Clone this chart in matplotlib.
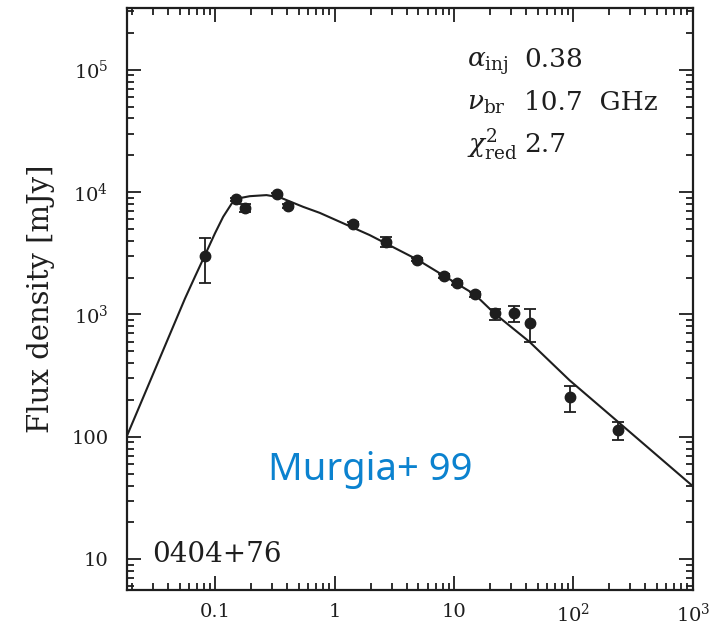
import matplotlib
matplotlib.use("Agg")
import matplotlib.pyplot as plt
from matplotlib import font_manager
from matplotlib.ticker import LogLocator, FixedLocator, FixedFormatter, NullFormatter

# measured spectrum of 0404+76
freq = [0.0817, 0.150, 0.176, 0.325, 0.407, 1.41, 2.71, 4.9, 8.3, 10.6,
        14.9, 21.8, 31.7, 43.4, 92.6, 235]
flux = [2990, 8710, 7430, 9550, 7710, 5530, 3920, 2810, 2055, 1810,
        1455, 1018, 1018, 853, 210, 113.6]
err_lo = [1180, 300, 600, 300, 300, 200, 360, 100, 80, 70,
          60, 110, 148, 256, 52, 19]
err_hi = [1240, 300, 600, 300, 300, 200, 340, 100, 80, 70,
          60, 90, 157, 245, 49, 19]

# fitted model curve
curve_freq = [0.018, 0.0556, 0.0673, 0.0817, 0.099, 0.116, 0.137, 0.155, 0.194,
              0.268, 0.347, 0.543, 0.748, 1.96, 4.9, 8.3, 14.9, 21.8, 42.8,
              92.6, 227, 1000]
curve_flux = [100, 1350, 2030, 3050, 4590, 6270, 8070, 8870, 9250,
              9440, 9040, 7570, 6760, 4450, 2810, 2055, 1455, 1018, 597,
              290, 137, 39.5]

xtick_vals = [0.1, 1, 10, 100, 1000]
xtick_labels = ["0.1", "1", "10", r"$10^2$", r"$10^3$"]
ytick_vals = [10, 100, 1000, 1e4, 1e5]
ytick_labels = ["10", "100", r"$10^3$", r"$10^4$", r"$10^5$"]

fit_names = [r"$\alpha_{\rm inj}$", r"$\nu_{\rm br}$", r"$\chi^2_{\rm red}$"]
fit_values = ["0.38", "10.7  GHz", "2.7"]

plt.rcParams["font.family"] = "DejaVu Serif"
plt.rcParams["mathtext.fontset"] = "dejavuserif"

fig = plt.figure(figsize=(7.15, 6.29), dpi=100)
ax = fig.add_axes([0.177, 0.062, 0.792, 0.925])

ink = "#1e1e1e"
ax.plot(curve_freq, curve_flux, color=ink, lw=1.5, zorder=2)
ax.errorbar(freq, flux, yerr=[err_lo, err_hi], fmt="o", color=ink, ms=7.5,
            elinewidth=1.3, capsize=4, capthick=1.3, zorder=3)

ax.set_xscale("log")
ax.set_yscale("log")
ax.set_xlim(0.018, 1000)
ax.set_ylim(5.6, 3.18e5)

ax.xaxis.set_major_locator(FixedLocator(xtick_vals))
ax.xaxis.set_major_formatter(FixedFormatter(xtick_labels))
ax.yaxis.set_major_locator(FixedLocator(ytick_vals))
ax.yaxis.set_major_formatter(FixedFormatter(ytick_labels))
for axis in (ax.xaxis, ax.yaxis):
    axis.set_minor_locator(LogLocator(base=10, subs=range(2, 10), numticks=20))
    axis.set_minor_formatter(NullFormatter())

ax.tick_params(which="both", direction="in", top=True, right=True,
               color=ink, width=1.3, labelsize=14, labelcolor=ink)
ax.tick_params(which="major", length=10)
ax.tick_params(which="minor", length=5)
ax.tick_params(axis="x", pad=9)
ax.tick_params(axis="y", pad=13)
for s in ax.spines.values():
    s.set_linewidth(1.6)
    s.set_color(ink)

ax.set_ylabel("Flux density [mJy]", fontsize=21, color=ink, labelpad=12)

for name, value, ypos in zip(fit_names, fit_values, [0.899, 0.825, 0.752]):
    ax.text(0.601, ypos, name, transform=ax.transAxes, fontsize=19,
            color=ink, va="baseline", ha="left")
    ax.text(0.702, ypos, value, transform=ax.transAxes, fontsize=19,
            color=ink, va="baseline", ha="left")

ax.text(0.045, 0.048, "0404+76", transform=ax.transAxes, fontsize=20,
        color=ink, va="baseline", ha="left")

# condensed sans for the citation if available
names = {f.name for f in font_manager.fontManager.ttflist}
if "Liberation Sans Narrow" in names:
    cite_font, cite_size = "Liberation Sans Narrow", 34
else:
    cite_font, cite_size = "Noto Sans", 27.5
ax.text(0.25, 0.189, "Murgia+ 99", transform=ax.transAxes, family=cite_font,
        fontsize=cite_size, color="#0b82cf", va="baseline", ha="left")

fig.savefig("out.png", dpi=100)
